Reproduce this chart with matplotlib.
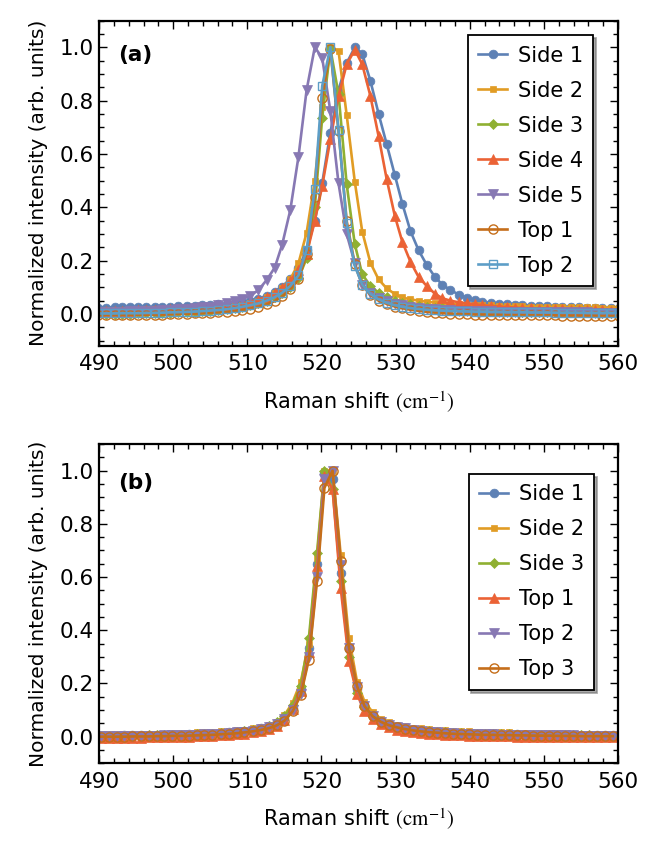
"""Raman spectra of the Si peak, side vs top measurements.

(a) raw normalized spectra, (b) after shift correction.
Values read off the original figure, one point per spectrometer pixel.
"""

import matplotlib

matplotlib.use("Agg")
import matplotlib.pyplot as plt
from matplotlib.ticker import MultipleLocator

# ---- panel (a): raw spectra ----
XA = [489.9, 491.0, 492.1, 493.1, 494.2, 495.3, 496.4, 497.5, 498.5, 499.6,
      500.7, 501.8, 502.9, 503.9, 505.0, 506.1, 507.2, 508.3, 509.3, 510.4,
      511.5, 512.6, 513.7, 514.7, 515.8, 516.9, 518.0, 519.1, 520.1, 521.2,
      522.3, 523.4, 524.5, 525.5, 526.6, 527.7, 528.8, 529.9, 530.9, 532.0,
      533.1, 534.2, 535.3, 536.3, 537.4, 538.5, 539.6, 540.7, 541.7, 542.8,
      543.9, 545.0, 546.1, 547.1, 548.2, 549.3, 550.4, 551.5, 552.5, 553.6,
      554.7, 555.8, 556.9, 557.9, 559.0, 560.1]

A_SIDE1 = [0.024, 0.024, 0.025, 0.025, 0.025, 0.026, 0.026, 0.027, 0.027, 0.028,
           0.029, 0.030, 0.031, 0.032, 0.034, 0.036, 0.038, 0.041, 0.045, 0.050,
           0.058, 0.068, 0.083, 0.103, 0.132, 0.172, 0.240, 0.350, 0.490, 0.680,
           0.840, 0.940, 1.000, 0.974, 0.874, 0.751, 0.636, 0.520, 0.414, 0.311,
           0.239, 0.184, 0.139, 0.110, 0.090, 0.073, 0.061, 0.052, 0.046, 0.042,
           0.039, 0.037, 0.035, 0.033, 0.031, 0.030, 0.029, 0.028, 0.027, 0.026,
           0.025, 0.024, 0.023, 0.022, 0.022, 0.021]
A_SIDE2 = [0.015, 0.015, 0.015, 0.016, 0.016, 0.016, 0.017, 0.017, 0.018, 0.018,
           0.019, 0.020, 0.021, 0.022, 0.024, 0.026, 0.028, 0.031, 0.035, 0.041,
           0.050, 0.062, 0.077, 0.098, 0.130, 0.190, 0.305, 0.499, 0.774, 1.000,
           0.986, 0.746, 0.495, 0.309, 0.192, 0.130, 0.096, 0.075, 0.062, 0.055,
           0.050, 0.046, 0.043, 0.041, 0.039, 0.037, 0.035, 0.034, 0.033, 0.032,
           0.031, 0.030, 0.029, 0.029, 0.028, 0.028, 0.027, 0.027, 0.026, 0.026,
           0.025, 0.025, 0.025, 0.024, 0.024, 0.024]
A_SIDE3 = [0.000, 0.000, 0.000, 0.001, 0.001, 0.002, 0.002, 0.003, 0.004, 0.005,
           0.006, 0.007, 0.008, 0.010, 0.012, 0.014, 0.017, 0.021, 0.026, 0.032,
           0.040, 0.050, 0.062, 0.077, 0.100, 0.134, 0.209, 0.400, 0.736, 0.995,
           0.824, 0.486, 0.261, 0.149, 0.105, 0.080, 0.062, 0.050, 0.042, 0.036,
           0.031, 0.027, 0.024, 0.021, 0.019, 0.017, 0.015, 0.014, 0.013, 0.012,
           0.011, 0.010, 0.010, 0.009, 0.009, 0.008, 0.008, 0.007, 0.007, 0.007,
           0.006, 0.006, 0.006, 0.005, 0.005, 0.005]
A_SIDE4 = [0.012, 0.012, 0.012, 0.013, 0.013, 0.014, 0.014, 0.015, 0.016, 0.017,
           0.018, 0.019, 0.020, 0.022, 0.024, 0.027, 0.030, 0.034, 0.039, 0.046,
           0.054, 0.064, 0.078, 0.097, 0.125, 0.165, 0.225, 0.349, 0.480, 0.655,
           0.817, 0.936, 0.990, 0.936, 0.817, 0.667, 0.505, 0.367, 0.271, 0.196,
           0.139, 0.105, 0.076, 0.059, 0.050, 0.044, 0.040, 0.036, 0.033, 0.030,
           0.028, 0.026, 0.024, 0.022, 0.021, 0.020, 0.019, 0.018, 0.017, 0.016,
           0.015, 0.015, 0.014, 0.014, 0.013, 0.013]
A_SIDE5 = [0.008, 0.008, 0.009, 0.009, 0.010, 0.011, 0.012, 0.013, 0.014, 0.016,
           0.018, 0.020, 0.022, 0.025, 0.028, 0.033, 0.040, 0.047, 0.056, 0.068,
           0.090, 0.127, 0.174, 0.260, 0.390, 0.590, 0.840, 1.000, 0.960, 0.760,
           0.490, 0.300, 0.190, 0.110, 0.080, 0.060, 0.047, 0.038, 0.032, 0.027,
           0.023, 0.020, 0.018, 0.016, 0.014, 0.013, 0.012, 0.011, 0.010, 0.010,
           0.009, 0.009, 0.008, 0.008, 0.008, 0.007, 0.007, 0.007, 0.006, 0.006,
           0.006, 0.006, 0.005, 0.005, 0.005, 0.005]
A_TOP1 = [-0.004, -0.004, -0.004, -0.004, -0.003, -0.003, -0.003, -0.002, -0.002, -0.001,
          0.000, 0.001, 0.002, 0.003, 0.004, 0.006, 0.008, 0.011, 0.015, 0.020,
          0.027, 0.036, 0.048, 0.066, 0.092, 0.130, 0.226, 0.440, 0.810, 0.993,
          0.686, 0.349, 0.186, 0.109, 0.072, 0.050, 0.038, 0.028, 0.022, 0.016,
          0.012, 0.008, 0.005, 0.003, 0.001, 0.000, -0.001, -0.002, -0.002, -0.003,
          -0.003, -0.004, -0.004, -0.004, -0.005, -0.005, -0.005, -0.005, -0.006, -0.006,
          -0.006, -0.006, -0.006, -0.007, -0.007, -0.007]
A_TOP2 = [0.002, 0.002, 0.002, 0.003, 0.003, 0.003, 0.004, 0.004, 0.005, 0.006,
          0.007, 0.008, 0.009, 0.011, 0.013, 0.015, 0.018, 0.022, 0.027, 0.033,
          0.040, 0.050, 0.063, 0.080, 0.105, 0.145, 0.240, 0.470, 0.855, 1.000,
          0.690, 0.340, 0.180, 0.110, 0.075, 0.055, 0.042, 0.033, 0.027, 0.022,
          0.019, 0.016, 0.014, 0.013, 0.012, 0.011, 0.010, 0.009, 0.009, 0.008,
          0.008, 0.007, 0.007, 0.007, 0.006, 0.006, 0.006, 0.005, 0.005, 0.005,
          0.005, 0.004, 0.004, 0.004, 0.004, 0.004]

# ---- panel (b): shift-corrected spectra ----
XB = [490.2, 491.3, 492.4, 493.4, 494.5, 495.6, 496.7, 497.8, 498.8, 499.9,
      501.0, 502.1, 503.2, 504.2, 505.3, 506.4, 507.5, 508.6, 509.6, 510.7,
      511.8, 512.9, 514.0, 515.0, 516.1, 517.2, 518.3, 519.4, 520.4, 521.5,
      522.6, 523.7, 524.8, 525.8, 526.9, 528.0, 529.1, 530.2, 531.2, 532.3,
      533.4, 534.5, 535.6, 536.6, 537.7, 538.8, 539.9, 541.0, 542.0, 543.1,
      544.2, 545.3, 546.4, 547.4, 548.5, 549.6, 550.7, 551.8, 552.8, 553.9,
      555.0, 556.1, 557.2, 558.2, 559.3]

B_SIDE1 = [0.004, 0.004, 0.004, 0.005, 0.005, 0.005, 0.006, 0.006, 0.007, 0.007,
           0.008, 0.009, 0.010, 0.011, 0.012, 0.014, 0.016, 0.018, 0.021, 0.025,
           0.031, 0.039, 0.050, 0.070, 0.108, 0.180, 0.335, 0.650, 0.990, 0.970,
           0.614, 0.330, 0.180, 0.115, 0.078, 0.058, 0.046, 0.038, 0.032, 0.027,
           0.024, 0.021, 0.019, 0.017, 0.015, 0.014, 0.013, 0.012, 0.011, 0.010,
           0.010, 0.009, 0.009, 0.008, 0.008, 0.007, 0.007, 0.007, 0.006, 0.006,
           0.006, 0.005, 0.005, 0.005, 0.005]
B_SIDE2 = [0.010, 0.010, 0.010, 0.010, 0.011, 0.011, 0.011, 0.012, 0.012, 0.013,
           0.014, 0.015, 0.016, 0.017, 0.018, 0.020, 0.022, 0.024, 0.027, 0.031,
           0.036, 0.045, 0.057, 0.080, 0.128, 0.205, 0.350, 0.670, 1.000, 1.000,
           0.683, 0.372, 0.206, 0.132, 0.092, 0.068, 0.054, 0.045, 0.039, 0.034,
           0.031, 0.028, 0.026, 0.024, 0.022, 0.021, 0.020, 0.019, 0.018, 0.017,
           0.016, 0.016, 0.015, 0.015, 0.014, 0.014, 0.013, 0.013, 0.013, 0.012,
           0.012, 0.012, 0.011, 0.011, 0.011]
B_SIDE3 = [0.003, 0.003, 0.003, 0.004, 0.004, 0.004, 0.005, 0.005, 0.006, 0.006,
           0.007, 0.008, 0.009, 0.010, 0.011, 0.013, 0.015, 0.017, 0.020, 0.024,
           0.030, 0.040, 0.054, 0.076, 0.120, 0.190, 0.370, 0.690, 1.000, 0.930,
           0.585, 0.300, 0.165, 0.110, 0.075, 0.056, 0.044, 0.036, 0.030, 0.026,
           0.023, 0.020, 0.018, 0.016, 0.015, 0.013, 0.012, 0.011, 0.010, 0.010,
           0.009, 0.009, 0.008, 0.008, 0.007, 0.007, 0.006, 0.006, 0.006, 0.005,
           0.005, 0.005, 0.004, 0.004, 0.004]
B_TOP1 = [-0.005, -0.005, -0.005, -0.004, -0.004, -0.004, -0.003, -0.003, -0.002, -0.002,
          -0.001, 0.000, 0.001, 0.002, 0.003, 0.005, 0.007, 0.009, 0.012, 0.016,
          0.022, 0.030, 0.042, 0.064, 0.105, 0.170, 0.320, 0.640, 0.980, 0.930,
          0.557, 0.285, 0.160, 0.095, 0.065, 0.046, 0.035, 0.027, 0.021, 0.017,
          0.014, 0.011, 0.009, 0.007, 0.006, 0.005, 0.004, 0.003, 0.002, 0.002,
          0.001, 0.001, 0.000, 0.000, 0.000, -0.001, -0.001, -0.001, -0.002, -0.002,
          -0.002, -0.003, -0.003, -0.003, -0.003]
B_TOP2 = [0.002, 0.002, 0.002, 0.003, 0.003, 0.003, 0.004, 0.004, 0.005, 0.005,
          0.006, 0.007, 0.008, 0.009, 0.010, 0.012, 0.014, 0.016, 0.019, 0.022,
          0.028, 0.036, 0.048, 0.066, 0.100, 0.160, 0.300, 0.600, 0.970, 1.000,
          0.645, 0.335, 0.185, 0.115, 0.078, 0.057, 0.045, 0.037, 0.031, 0.026,
          0.022, 0.019, 0.017, 0.015, 0.014, 0.012, 0.011, 0.010, 0.009, 0.009,
          0.008, 0.008, 0.007, 0.007, 0.006, 0.006, 0.006, 0.005, 0.005, 0.005,
          0.004, 0.004, 0.004, 0.004, 0.004]
B_TOP3 = [0.000, 0.000, 0.000, 0.000, 0.001, 0.001, 0.001, 0.002, 0.002, 0.003,
          0.003, 0.004, 0.005, 0.006, 0.007, 0.009, 0.011, 0.013, 0.016, 0.020,
          0.025, 0.032, 0.043, 0.060, 0.095, 0.155, 0.290, 0.585, 0.935, 1.000,
          0.660, 0.335, 0.190, 0.115, 0.077, 0.056, 0.043, 0.035, 0.029, 0.024,
          0.020, 0.017, 0.015, 0.013, 0.011, 0.010, 0.009, 0.008, 0.007, 0.007,
          0.006, 0.006, 0.005, 0.005, 0.004, 0.004, 0.004, 0.003, 0.003, 0.003,
          0.002, 0.002, 0.002, 0.002, 0.002]

# Mathematica default palette
BLUE, ORANGE, GREEN = "#5E81B5", "#E19C24", "#8FB032"
RED, PURPLE, DKORANGE, LTBLUE = "#EB6235", "#8778B3", "#C56E1A", "#5D9EC7"

# (label, values, color, marker, size, filled)
SERIES_A = [("Side 1", A_SIDE1, BLUE, "o", 6.3, True),
            ("Side 2", A_SIDE2, ORANGE, "s", 4.8, True),
            ("Side 3", A_SIDE3, GREEN, "D", 4.8, True),
            ("Side 4", A_SIDE4, RED, "^", 6.5, True),
            ("Side 5", A_SIDE5, PURPLE, "v", 6.5, True),
            ("Top 1", A_TOP1, DKORANGE, "o", 6.6, False),
            ("Top 2", A_TOP2, LTBLUE, "s", 5.6, False)]
SERIES_B = [("Side 1", B_SIDE1, BLUE, "o", 6.3, True),
            ("Side 2", B_SIDE2, ORANGE, "s", 4.8, True),
            ("Side 3", B_SIDE3, GREEN, "D", 4.8, True),
            ("Top 1", B_TOP1, RED, "^", 6.5, True),
            ("Top 2", B_TOP2, PURPLE, "v", 6.5, True),
            ("Top 3", B_TOP3, DKORANGE, "o", 6.6, False)]

plt.rcParams["font.family"] = ["DejaVu Sans"]
plt.rcParams["mathtext.fontset"] = "stix"


def style_axes(ax, ylo):
    ax.set_xlim(490, 560)
    ax.set_ylim(ylo, 1.1)
    ax.xaxis.set_major_locator(MultipleLocator(10))
    ax.xaxis.set_minor_locator(MultipleLocator(2))
    ax.yaxis.set_major_locator(MultipleLocator(0.2))
    ax.yaxis.set_minor_locator(MultipleLocator(0.05))
    ax.yaxis.set_major_formatter(plt.FuncFormatter(lambda v, _: f"{v:.1f}"))
    ax.tick_params(which="both", direction="in", top=True, right=True,
                   width=1.0, labelsize=15.5)
    ax.tick_params(which="major", length=6)
    ax.tick_params(which="minor", length=3.5)
    ax.tick_params(axis="x", pad=6)
    ax.tick_params(axis="y", pad=4)
    for s in ax.spines.values():
        s.set_linewidth(1.6)
    ax.set_xlabel(r"Raman shift $(\mathrm{cm}^{-1})$", fontsize=15, labelpad=11)
    ax.set_ylabel("Normalized intensity (arb. units)", fontsize=14.5,
                  labelpad=8)


def draw(ax, x, series, tag, legend_anchor):
    for label, y, c, m, ms, filled in series:
        ax.plot(x, y, color=c, lw=1.9, marker=m, ms=ms,
                mfc=c if filled else "none", mec=c,
                mew=1.0 if not filled else 0.5, label=label)
    ax.text(0.037, 0.895 if tag == "(a)" else 0.878, tag, transform=ax.transAxes,
            fontsize=15.5, fontweight="bold", va="center")
    leg = ax.legend(loc="upper right", bbox_to_anchor=legend_anchor,
                    fontsize=15, frameon=True, fancybox=False,
                    shadow={"color": "0.45", "alpha": 0.6},
                    handlelength=1.4, handletextpad=0.5, labelspacing=0.72,
                    borderpad=0.5, borderaxespad=0.0, numpoints=1)
    leg.get_frame().set_edgecolor("black")
    leg.get_frame().set_linewidth(1.3)


def main():
    fig = plt.figure(figsize=(6.65, 8.44), dpi=100)
    axA = fig.add_axes([0.1489, 0.590, 0.7805, 0.3857])
    axB = fig.add_axes([0.1489, 0.0956, 0.7805, 0.3784])

    draw(axA, XA, SERIES_A, "(a)", (0.952, 0.955))
    style_axes(axA, -0.12)
    draw(axB, XB, SERIES_B, "(b)", (0.954, 0.906))
    style_axes(axB, -0.10)

    fig.savefig("out.png", dpi=100, facecolor="white")


if __name__ == "__main__":
    main()
